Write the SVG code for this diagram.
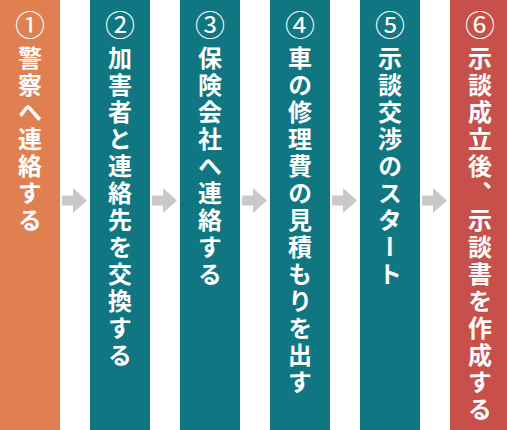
<svg xmlns="http://www.w3.org/2000/svg" width="507" height="430" viewBox="0 0 507 430">
<defs>
<style>
.col-o{fill:#E07F4F}
.col-t{fill:#107782}
.col-r{fill:#C8504A}
.num{font-family:"Noto Sans CJK JP","Noto Sans",sans-serif;font-size:30px;font-weight:400;fill:#fff;text-anchor:middle}
.lbl{font-family:"Noto Sans CJK JP",sans-serif;font-size:24px;font-weight:700;fill:#fff;writing-mode:vertical-rl;letter-spacing:3px}
.arr{fill:#C9C9C9}
</style>
<path id="arrow" d="M0,7.5 H11 V0 L25,12.5 L11,25 V17.5 H0 Z"/>
</defs>
<rect width="507" height="430" fill="#fff"/>
<g id="node1">
<rect class="col-o" x="0" y="0" width="60" height="430"/>
<text class="num" x="30" y="36">①</text>
<text class="lbl" x="30" y="46">警察へ連絡する</text>
</g>
<g id="node2">
<rect class="col-t" x="90" y="0" width="60" height="430"/>
<text class="num" x="120" y="36">②</text>
<text class="lbl" x="120" y="46">加害者と連絡先を交換する</text>
</g>
<g id="node3">
<rect class="col-t" x="180" y="0" width="60" height="430"/>
<text class="num" x="210" y="36">③</text>
<text class="lbl" x="210" y="46">保険会社へ連絡する</text>
</g>
<g id="node4">
<rect class="col-t" x="270" y="0" width="60" height="430"/>
<text class="num" x="300" y="36">④</text>
<text class="lbl" x="300" y="46">車の修理費の見積もりを出す</text>
</g>
<g id="node5">
<rect class="col-t" x="360" y="0" width="60" height="430"/>
<text class="num" x="390" y="36">⑤</text>
<text class="lbl" x="390" y="46">示談交渉のスタート</text>
</g>
<g id="node6">
<rect class="col-r" x="450" y="0" width="57" height="430"/>
<text class="num" x="480" y="36">⑥</text>
<text class="lbl" x="480" y="46">示談成立後、示談書を作成する</text>
</g>
<g id="connectors" class="arr">
<use href="#arrow" x="62" y="188"/>
<use href="#arrow" x="152" y="188"/>
<use href="#arrow" x="242" y="188"/>
<use href="#arrow" x="332" y="188"/>
<use href="#arrow" x="422" y="188"/>
</g>
</svg>
